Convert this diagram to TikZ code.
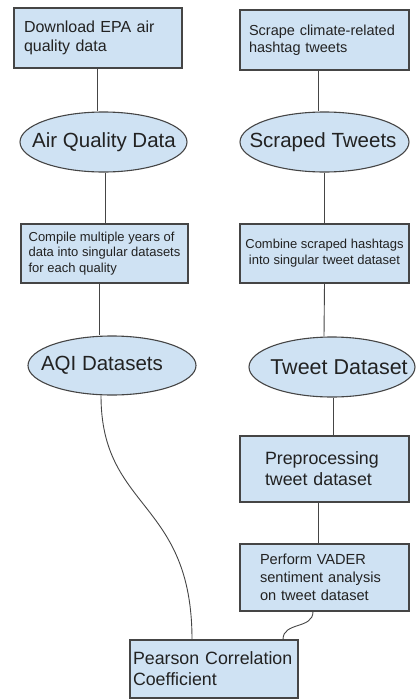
\documentclass[tikz,border=0pt]{standalone}
\usepackage{fontspec}
\setmainfont{Liberation Sans}
\usetikzlibrary{shapes.geometric}
\definecolor{boxfill}{HTML}{CFE2F3}
\definecolor{edgecol}{HTML}{454545}
\definecolor{txtcol}{HTML}{222222}
\tikzset{
  stepbox/.style={draw=edgecol, line width=1.1pt, fill=boxfill, rectangle, inner ysep=0pt, text=txtcol, anchor=center},
  ell/.style={draw=edgecol, line width=1.1pt, fill=boxfill, ellipse, inner sep=0pt, text=txtcol},
  lbl/.style={text=txtcol, inner sep=0pt, font=\fontsize{20.5}{24}\selectfont},
  conn/.style={draw=edgecol, line width=0.9pt}
}
\begin{document}
\begin{tikzpicture}[x=1pt,y=-1pt]
\useasboundingbox (0,0) rectangle (416,699);

% left column
\node[stepbox, minimum width=168pt, minimum height=60pt, text width=148pt, inner xsep=10pt, align=left,
  font=\fontsize{16}{18.5}\selectfont] (b1) at (98,38) {Download EPA air\\quality data};
\node[ell, minimum width=167pt, minimum height=60pt] (e1) at (103.5,142) {};
\node[lbl] at ([xshift=0.5pt]e1.center) {Air Quality Data};
\node[stepbox, minimum width=167pt, minimum height=59pt, inner xsep=2pt, align=left,
  font=\fontsize{13}{15.6}\selectfont] (b3) at (104.5,253.5) {Compile multiple years of\\data into singular datasets\\for each quality};
\node[ell, minimum width=168pt, minimum height=59pt] (e3) at (112,365.5) {};
\node[lbl] at ([xshift=-10pt]e3.center) {AQI Datasets};

% right column
\node[stepbox, minimum width=169pt, minimum height=60pt, text width=151pt, inner xsep=9pt, align=left,
  font=\fontsize{14.5}{17}\selectfont] (b2) at (324.5,40) {Scrape climate-related\\hashtag tweets};
\node[ell, minimum width=169pt, minimum height=60pt] (e2) at (324.5,142) {};
\node[lbl] at ([xshift=-1.5pt]e2.center) {Scraped Tweets};
\node[stepbox, minimum width=169pt, minimum height=59pt, inner xsep=1pt, align=center,
  font=\fontsize{13}{16}\selectfont] (b4) at (324.5,253.5) {Combine scraped hashtags\\into singular tweet dataset};
\node[ell, minimum width=166pt, minimum height=60pt] (e4) at (332,367) {};
\node[lbl, font=\fontsize{21.5}{25}\selectfont] at ([xshift=7pt]e4.center) {Tweet Dataset};
\node[stepbox, minimum width=169pt, minimum height=66pt, text width=119pt, inner xsep=25pt, align=left,
  font=\fontsize{17.8}{21}\selectfont] (b5) at (324.5,469) {Preprocessing\\tweet dataset};
\node[stepbox, minimum width=169pt, minimum height=67pt, text width=129pt, inner xsep=20pt, align=left,
  font=\fontsize{14.6}{18}\selectfont] (b6) at (324.5,577.5) {Perform VADER\\sentiment analysis\\on tweet dataset};

% bottom
\node[stepbox, minimum width=168pt, minimum height=58pt, text width=162pt, inner xsep=3pt, align=left,
  font=\fontsize{17.8}{21}\selectfont] (b7) at (214,669) {Pearson Correlation\\Coefficient};

% connectors
\draw[conn] ([xshift=-1pt]b1.south) -- ([xshift=-6.5pt]e1.north);
\draw[conn] ([xshift=1.5pt]e1.south) -- ([xshift=0.5pt]b3.north);
\draw[conn] ([xshift=-5.5pt]b3.south) -- ([xshift=-13pt]e3.north);
\draw[conn] ([xshift=-6.5pt]b2.south) -- ([xshift=-6.5pt]e2.north);
\draw[conn] (e2.south) -- (b4.north);
\draw[conn] (b4.south) -- ([xshift=-8pt]e4.north);
\draw[conn] ([xshift=1pt]e4.south) -- ([xshift=8.5pt]b5.north);
\draw[conn] ([xshift=-6.5pt]b5.south) -- ([xshift=-6.5pt]b6.north);
\draw[conn] ([xshift=-11pt]e3.south) .. controls +(0,115) and +(0,-140) .. ([xshift=-22pt]b7.north);
\draw[conn] ([xshift=-11.5pt]b6.south) .. controls +(0,18) and +(0,-18) .. ([xshift=69pt]b7.north);
\end{tikzpicture}
\end{document}
